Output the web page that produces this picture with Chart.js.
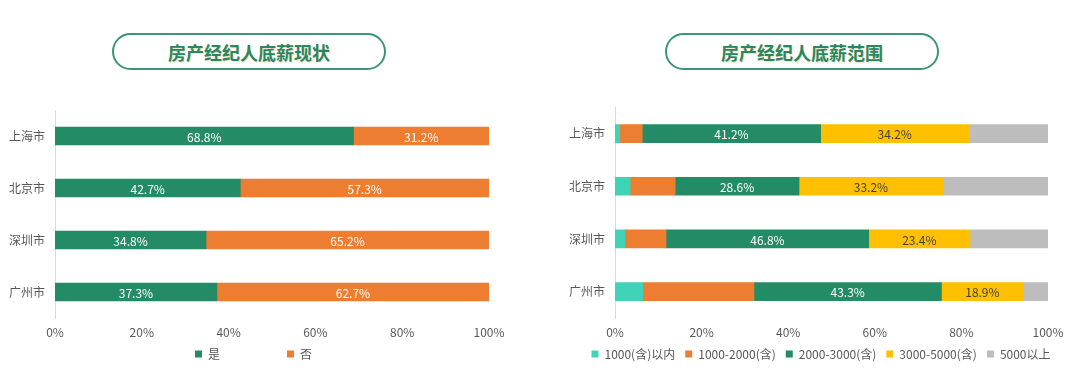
<!DOCTYPE html>
<html>
<head>
<meta charset="utf-8">
<script src="https://cdn.jsdelivr.net/npm/chart.js@4/dist/chart.umd.min.js"></script>
<style>
  html, body { margin: 0; padding: 0; background: #fff; }
  body { width: 1080px; height: 386px; position: relative; overflow: hidden; font-family: "Noto Sans CJK SC", sans-serif; }
  .pill {
    position: absolute; top: 33px; height: 33px; width: 270px;
    border: 2px solid #3a9675; border-radius: 19px;
    color: #2b8660; font-weight: 700; font-size: 18px;
    display: flex; align-items: center; justify-content: center;
    text-shadow: 1px 1px 1px rgba(200, 170, 90, 0.35);
  }
  .box { position: absolute; top: 90px; height: 296px; }
</style>
</head>
<body>
<div class="pill" style="left:112px">房产经纪人底薪现状</div>
<div class="pill" style="left:665px">房产经纪人底薪范围</div>
<div class="box" style="left:0;width:520px"><canvas id="chart-status"></canvas></div>
<div class="box" style="left:540px;width:540px"><canvas id="chart-range"></canvas></div>
<script>
// 城市
const cities = ['上海市', '北京市', '深圳市', '广州市'];

// 底薪现状 (%)
const statusLabels = ['是', '否'];
const yesValues = [68.8, 42.7, 34.8, 37.3];
const noValues = [31.2, 57.3, 65.2, 62.7];

// 底薪范围 (%)
const rangeLabels = ['1000(含)以内', '1000-2000(含)', '2000-3000(含)', '3000-5000(含)', '5000以上'];
const under1000 = [1.1, 3.5, 2.3, 6.4];
const r1000to2000 = [5.2, 10.4, 9.5, 25.7];
const r2000to3000 = [41.2, 28.6, 46.8, 43.3];
const r3000to5000 = [34.2, 33.2, 23.4, 18.9];
const over5000 = [18.3, 24.3, 18.0, 5.7];

const xTicks = [0, 20, 40, 60, 80, 100];

const GREEN = '#238b65';
const ORANGE = '#ed7d31';
const TEAL = '#3fd3b7';
const YELLOW = '#ffc000';
const GRAY = '#bdbdbd';
const TEXT = '#595959';
const FONT = '"Noto Sans CJK SC", "Noto Sans", sans-serif';

// 条形中间的百分比标签，只画设置了 labelColor 的系列
const barLabels = {
  id: 'barLabels',
  afterDatasetsDraw(chart) {
    const ctx = chart.ctx;
    ctx.save();
    ctx.font = '12px ' + FONT;
    ctx.textAlign = 'center';
    ctx.textBaseline = 'middle';
    chart.data.datasets.forEach((ds, i) => {
      if (!ds.labelColor) return;
      const meta = chart.getDatasetMeta(i);
      meta.data.forEach((bar, j) => {
        const p = bar.getCenterPoint();
        ctx.fillStyle = ds.labelColor;
        ctx.fillText(ds.data[j].toFixed(1) + '%', p.x, p.y + 1);
      });
    });
    ctx.restore();
  }
};

// 图例固定到指定位置（左图图例间距大，用 maxHeight 压住占位）
// legend 在 v4 里会按自身区域裁剪，所以 bottom 也要跟着放宽
const legendNudge = {
  id: 'legendNudge',
  afterLayout(chart, args, opts) {
    const l = chart.legend;
    if (!l) return;
    const pad = l.options.labels.padding;
    l.top = opts.y - pad - 7;
    l.bottom = opts.y + 12;
    l.left += opts.dx || 0;
    l.right += opts.dx || 0;
  }
};

function baseOptions(padding, legendPad, legendY, legendDx) {
  return {
    indexAxis: 'y',
    responsive: true,
    maintainAspectRatio: false,
    animation: false,
    layout: { padding },
    scales: {
      x: {
        stacked: true,
        min: 0,
        max: 100,
        afterBuildTicks(scale) { scale.ticks = xTicks.map(v => ({ value: v })); },
        afterFit(scale) { scale.height = 24; },
        grid: { display: false, drawTicks: false },
        border: { display: false },
        ticks: { color: TEXT, font: { size: 12, family: FONT }, padding: 7, callback: v => v + '%' }
      },
      y: {
        stacked: true,
        afterFit(scale) { scale.width = 55; },
        grid: { display: false, drawTicks: false },
        border: { display: true, color: '#d9d9d9', width: 1 },
        ticks: { color: TEXT, font: { size: 12, family: FONT }, padding: 10 }
      }
    },
    plugins: {
      legend: {
        position: 'bottom',
        maxHeight: 30,
        labels: { boxWidth: 7, boxHeight: 7, padding: legendPad, color: TEXT, font: { size: 12, family: FONT } }
      },
      tooltip: { enabled: false },
      legendNudge: { y: legendY, dx: legendDx }
    }
  };
}

function ds(label, data, color, labelColor) {
  return { label, data, backgroundColor: color, borderWidth: 0, barThickness: 18, labelColor };
}

new Chart(document.getElementById('chart-status'), {
  type: 'bar',
  data: {
    labels: cities,
    datasets: [
      ds(statusLabels[0], yesValues, GREEN, '#ffffff'),
      ds(statusLabels[1], noValues, ORANGE, '#ffffff')
    ]
  },
  options: baseOptions({ top: 20, left: 0, right: 31, bottom: 14 }, 67, 265, 9),
  plugins: [barLabels, legendNudge]
});

new Chart(document.getElementById('chart-range'), {
  type: 'bar',
  data: {
    labels: cities,
    datasets: [
      ds(rangeLabels[0], under1000, TEAL),
      ds(rangeLabels[1], r1000to2000, ORANGE),
      ds(rangeLabels[2], r2000to3000, GREEN, '#ffffff'),
      ds(rangeLabels[3], r3000to5000, YELLOW, '#404040'),
      ds(rangeLabels[4], over5000, GRAY)
    ]
  },
  options: baseOptions({ top: 16, left: 20, right: 32, bottom: 14 }, 10, 265, 17),
  plugins: [barLabels, legendNudge]
});
</script>
</body>
</html>
